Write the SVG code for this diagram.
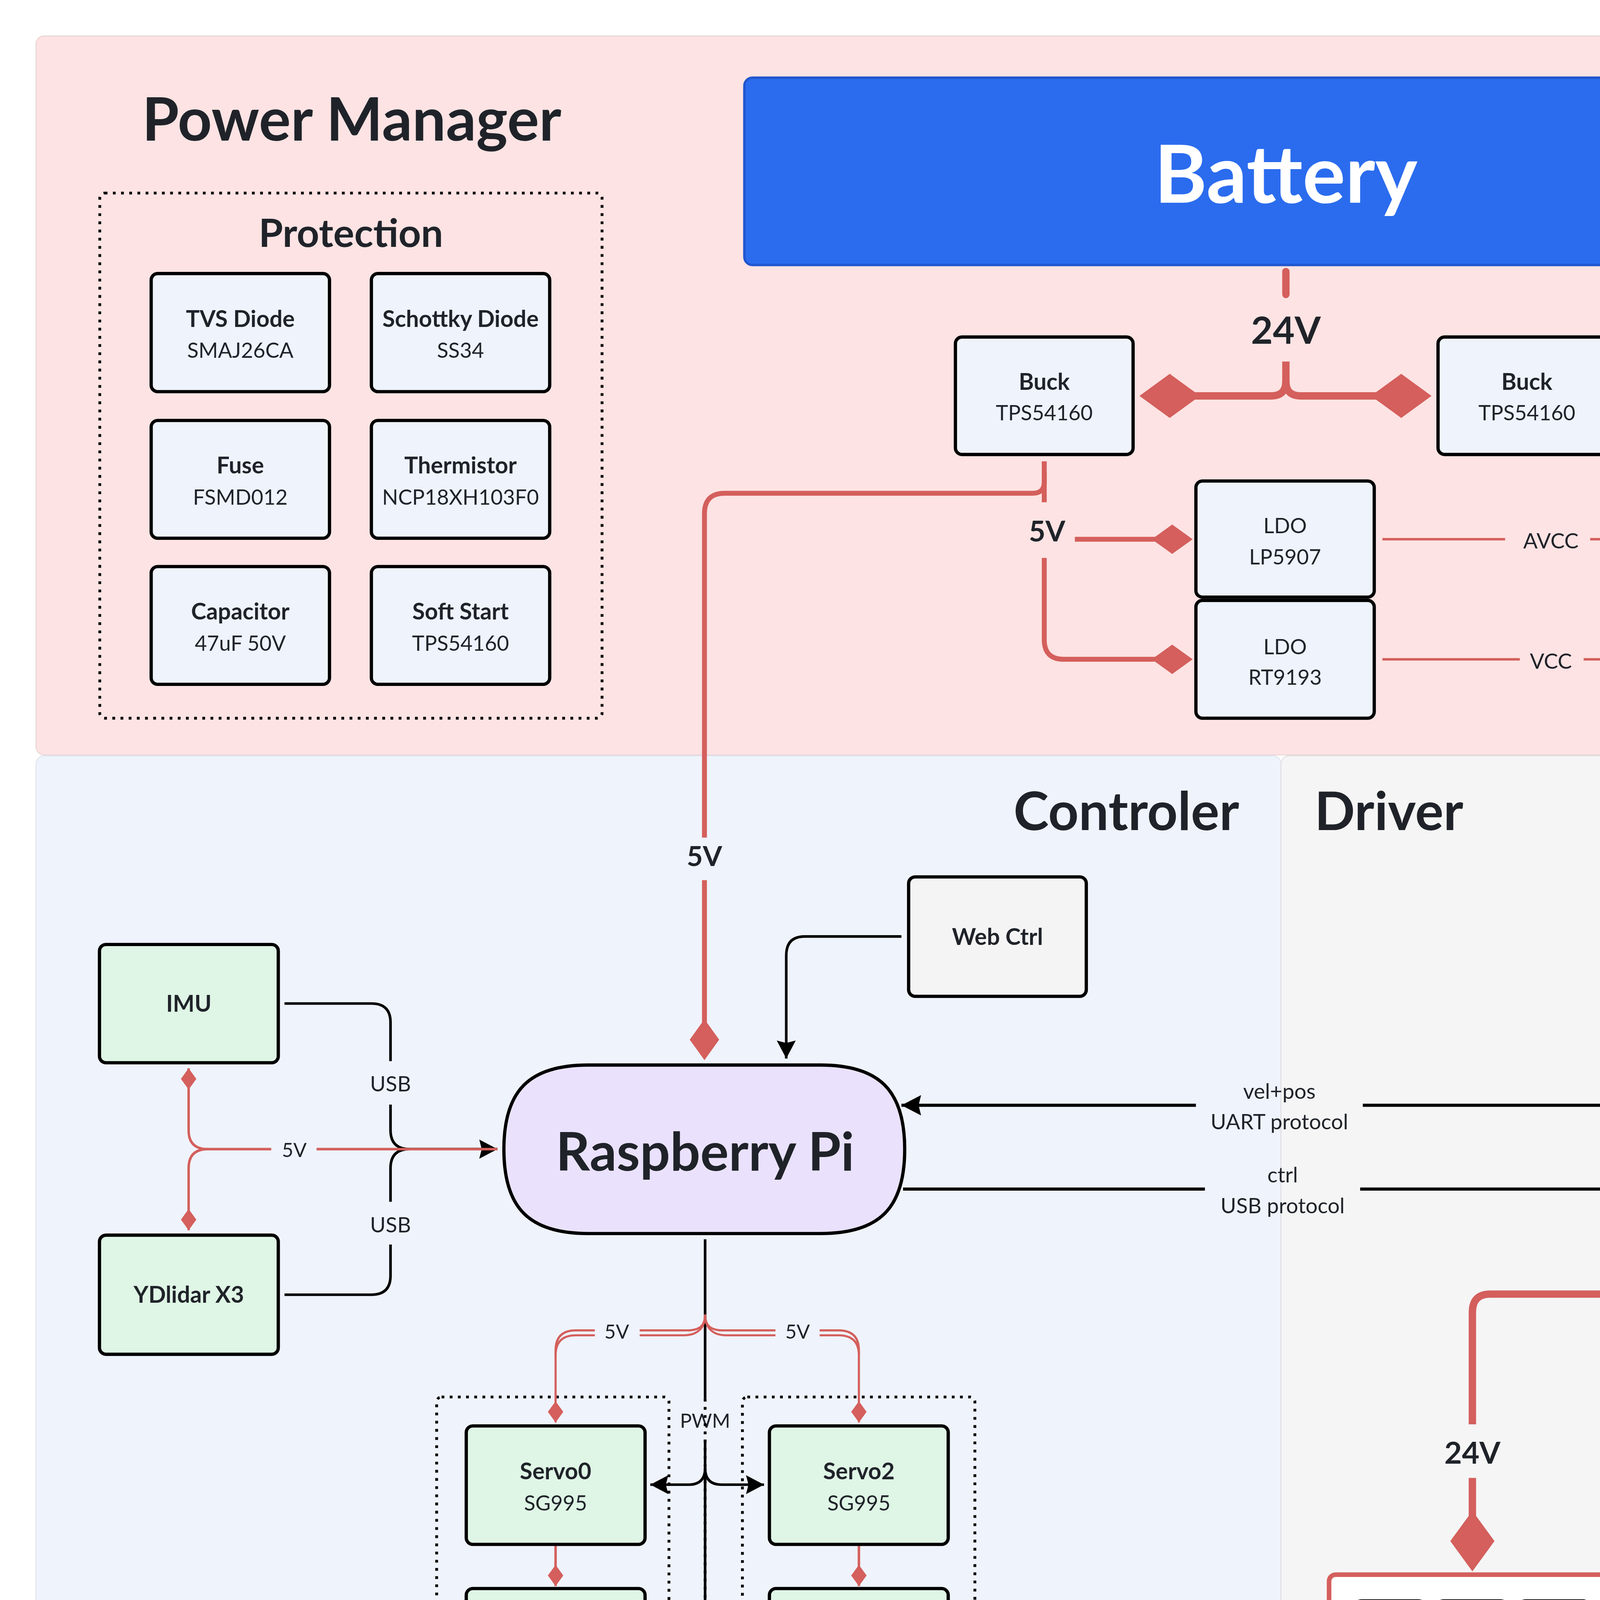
<svg xmlns="http://www.w3.org/2000/svg" width="6567" height="5053" viewBox="0 0 6567 5053">
<defs>
<style>
text{font-family:Lato,"Noto Sans","Liberation Sans",sans-serif;fill:#1f2329;text-anchor:middle}
.b{font-weight:700}
.n{font-size:12.8px}
.b.n{font-size:14px}
.lb{font-size:13px}
.sm{font-size:12px}
.nd{stroke:#000;stroke-width:2}
.blue{fill:#eef3fc}
.green{fill:#dff5e5}
.lav{fill:#eae2fd}
.grey{fill:#f4f4f4}
.mos{fill:#d6dcf5;stroke:#000;stroke-width:1.8}
.mbox{fill:#fff;stroke:#d45f5c;stroke-width:2.8}
.dot{fill:none;stroke:#000;stroke-width:1.7;stroke-dasharray:1.7 3.3}
.r5{fill:none;stroke:#d45f5c;stroke-width:4.5}
.r3{fill:none;stroke:#d45f5c;stroke-width:3}
.r1{fill:none;stroke:#d45f5c;stroke-width:1.5}
.rd{fill:none;stroke:#d45f5c;stroke-width:1.3}
.k{fill:none;stroke:#000;stroke-width:1.6}
.k2{fill:none;stroke:#000;stroke-width:1.9}
</style>
<marker id="dL" markerUnits="userSpaceOnUse" viewBox="-38 -14 38 28" markerWidth="38" markerHeight="28" refX="-6" refY="0" orient="auto" overflow="visible"><path d="M0,0 L-18.5,-13.5 L-37,0 L-18.5,13.5Z" fill="#d45f5c"/></marker>
<marker id="dM" markerUnits="userSpaceOnUse" viewBox="-26 -9 26 18" markerWidth="26" markerHeight="18" refX="-3" refY="0" orient="auto" overflow="visible"><path d="M0,0 L-12.5,-9 L-25,0 L-12.5,9Z" fill="#d45f5c"/></marker>
<marker id="dS" markerUnits="userSpaceOnUse" viewBox="-14 -5 14 10" markerWidth="14" markerHeight="10" refX="0" refY="0" orient="auto" overflow="visible"><path d="M0,0 L-6.5,-4.7 L-13,0 L-6.5,4.7Z" fill="#d45f5c"/></marker>
<marker id="dS2" markerUnits="userSpaceOnUse" viewBox="-17 -5 17 10" markerWidth="17" markerHeight="10" refX="0" refY="0" orient="auto" overflow="visible"><path d="M0,0 L-8,-4.7 L-16,0 L-8,4.7Z" fill="#d45f5c"/></marker>
<marker id="aK" markerUnits="userSpaceOnUse" viewBox="-12 -6 12 12" markerWidth="12" markerHeight="12" refX="0" refY="0" orient="auto" overflow="visible"><path d="M0,0 L-11,-5.8 L-9.5,0 L-11,5.8Z" fill="#000"/></marker>
<marker id="aM" markerUnits="userSpaceOnUse" viewBox="-13 -7 13 14" markerWidth="13" markerHeight="14" refX="0" refY="0" orient="auto" overflow="visible"><path d="M0,0 L-12,-6.2 L-10.5,0 L-12,6.2Z" fill="#000"/></marker>
</defs>
<rect width="6567" height="5053" fill="#ffffff"/>
<g transform="scale(4.18814)">
<g id="regions">
<rect x="22" y="22" width="1523" height="439.5" rx="5" fill="#fde3e3" stroke="#e6d2d2" stroke-width="0.5"/>
<rect x="22" y="462" width="761" height="723" rx="5" fill="#eff3fc" stroke="#dde2ea" stroke-width="0.5"/>
<rect x="783" y="462" width="762" height="723" rx="5" fill="#f5f5f5" stroke="#dedede" stroke-width="0.5"/>
<text x="215" y="86" class="b" font-size="36.5">Power Manager</text>
<text x="688.5" y="507.5" class="b" font-size="32.5">Controler</text>
<text x="849" y="507.5" class="b" font-size="32.5">Driver</text>
</g>
<g id="groups">
<rect x="61" y="118" width="307" height="321" rx="3" class="dot"/>
<text x="214.5" y="151" class="b" font-size="24">Protection</text>
<rect x="266.9" y="853.9" width="142" height="204.6" rx="3" class="dot"/>
<text x="338" y="1076" class="b" font-size="18">Left</text>
<rect x="453.8" y="853.9" width="142.1" height="204.6" rx="3" class="dot"/>
<text x="525" y="1076" class="b" font-size="18">Right</text>
<rect x="1005.6" y="854" width="142" height="204.5" rx="3" class="dot"/>
<text x="1077.8" y="1078" class="b" font-size="18">Left</text>
<rect x="1192.2" y="854" width="142.3" height="204.5" rx="3" class="dot"/>
<text x="1263.4" y="1076" class="b" font-size="18">Right</text>
</g>
<g id="connectors">
<path class="r5" d="M1121,104.5 H1428 Q1440,104.5 1440,116.5 V874.6" stroke-linecap="round"/>
<path class="r5" d="M1440,906.6 V954.5" marker-end="url(#dL)"/>
<text x="1440" y="898" class="b" font-size="18.5">24V</text>
<path class="r5" d="M1440,791 H911 Q900,791 900,802 V870.6"/>
<path class="r5" d="M900,903.4 V954.5" marker-end="url(#dL)"/>
<text x="900" y="894.6" class="b" font-size="18.5">24V</text>
<path class="r5" d="M786,166 V180" stroke-linecap="round"/>
<text x="786" y="210" class="b" font-size="23">24V</text>
<path class="r5" d="M786,221 V233 Q786,242 777,242 H702.5" marker-end="url(#dL)"/>
<path class="r5" d="M786,233 Q786,242 795,242 H869" marker-end="url(#dL)"/>
<path class="r3" d="M638.3,282 V307"/>
<path class="r3" d="M638.3,289 V294.5 Q638.3,301.5 631.3,301.5 H443 Q430.6,301.5 430.6,314 V512"/>
<text x="430.6" y="529.4" class="b" font-size="17">5V</text>
<path class="r3" d="M430.6,538 V645" marker-end="url(#dM)"/>
<text x="640" y="331" class="b" font-size="17.5">5V</text>
<path class="r3" d="M657,329.6 H726" marker-end="url(#dM)"/>
<path class="r3" d="M638.3,341 V391 Q638.3,403 650.3,403 H726" marker-end="url(#dM)"/>
<path class="r3" d="M991,242 H1157 Q1169,242 1169,254 V447"/>
<text x="1169" y="470.4" class="b" font-size="18.5">12V</text>
<path class="r3" d="M1169,479 V509" marker-end="url(#dM)"/>
<path class="k" d="M173.9,613.4 H227 Q238.7,613.4 238.7,625 V648.6"/>
<text x="238.7" y="667.2" class="lb">USB</text>
<path class="k" d="M238.7,675.2 V690.7 Q238.7,702.4 250.4,702.4 H304" marker-end="url(#aK)"/>
<path class="k" d="M173.9,791.4 H227 Q238.7,791.4 238.7,779.7 V760.7"/>
<text x="238.7" y="753.4" class="lb">USB</text>
<path class="k" d="M238.7,734.6 V714.1 Q238.7,702.4 250.4,702.4 H304" marker-end="url(#aK)"/>
<path class="k" d="M551,572.4 H492 Q480.6,572.4 480.6,584 V647" marker-end="url(#aK)"/>
<path class="k2" d="M1050,675.6 H833"/>
<path class="k2" d="M731,675.6 H551" marker-end="url(#aM)"/>
<text x="782" y="671.6" class="lb">vel+pos</text>
<text x="782" y="690.3" class="lb">UART protocol</text>
<path class="k2" d="M552,726.8 H736.5"/>
<path class="k2" d="M831.4,726.8 H1049" marker-end="url(#aM)"/>
<text x="784" y="722.7" class="lb">ctrl</text>
<text x="784" y="741.5" class="lb">USB protocol</text>
<path class="k" d="M431,757.5 V855"/>
<text x="431" y="872.7" class="sm">PWM</text>
<path class="k" d="M431,880 V997"/>
<path class="k" d="M431,897.5 Q431,907.5 421,907.5 H397.5" marker-end="url(#aK)"/>
<path class="k" d="M431,897.5 Q431,907.5 441,907.5 H467" marker-end="url(#aK)"/>
<path class="k" d="M431,997 Q431,1007 421,1007 H397.5" marker-end="url(#aK)"/>
<path class="k" d="M431,997 Q431,1007 441,1007 H467" marker-end="url(#aK)"/>
<path class="dot" d="M431,855 V1080"/>
<path class="k" d="M1169,866 V757.5" marker-end="url(#aK)"/>
<text x="1169" y="885.3" class="sm">SPI ABZ</text>
<path class="k" d="M1169,892 V948"/>
<path class="k" d="M1169,897.5 Q1169,907.4 1159,907.4 H1136"/>
<path class="k" d="M1169,897.5 Q1169,907.4 1179,907.4 H1205"/>
<text x="1169" y="966.3" class="sm">PWM</text>
<path class="k" d="M1169,973 V997"/>
<path class="k" d="M1169,997 Q1169,1007.3 1159,1007.3 H1136" marker-end="url(#aK)"/>
<path class="k" d="M1169,997 Q1169,1007.3 1179,1007.3 H1205" marker-end="url(#aK)"/>
<path class="dot" d="M1169,860 V1080"/>
<path class="k" d="M1169,648 V641"/>
<text x="1169" y="634.6" class="sm">PWM</text>
<path class="k" d="M1169,618 V564" marker-end="url(#aK)"/>
<path class="k" d="M1229,537 H1271" marker-end="url(#aK)"/>
<path class="k" d="M1408.7,613.6 H1379 Q1367.7,613.6 1367.7,625 V656"/>
<text x="1367.7" y="675.5" class="lb">SPI</text>
<path class="k" d="M1367.7,683 V691 Q1367.7,702.3 1356.4,702.3 H1296" marker-end="url(#aK)"/>
<path class="k" d="M1408.7,790.8 H1379 Q1367.7,790.8 1367.7,779.5 V750.3"/>
<text x="1367.7" y="742.8" class="lb">ADC</text>
<path class="k" d="M1367.7,723.6 V713.6 Q1367.7,702.3 1356.4,702.3 H1296" marker-end="url(#aK)"/>
<path class="k" d="M1019.5,1007.3 H991" marker-end="url(#aK)"/>
<path class="k" d="M1321.5,1007.3 H1349.5" marker-end="url(#aK)"/>
<path class="k" d="M900,1056 V1088" marker-end="url(#aK)"/>
<path class="k" d="M1440,1056 V1088" marker-end="url(#aK)"/>
<path class="r1" d="M845,329.6 H920"/>
<text x="948" y="335.3" class="lb">AVCC</text>
<path class="r1" d="M972,329.6 H1229 Q1240.5,329.6 1240.5,341 V649.5" marker-end="url(#dS)"/>
<path class="r1" d="M845,403 H929"/>
<text x="948" y="408.8" class="lb">VCC</text>
<path class="r1" d="M968,403 H1086 Q1097.5,403 1097.5,414.5 V649.5" marker-end="url(#dS)"/>
<path class="r1" d="M1467.5,671 V652" marker-end="url(#dS2)"/>
<text x="1467.5" y="687.4" class="sm">VCC</text>
<path class="r1" d="M1467.5,691 Q1467.5,702.3 1456,702.3 H1296"/>
<path class="r1" d="M1467.5,713.6 Q1467.5,702.3 1456,702.3"/>
<text x="1467.5" y="728.2" class="sm">AVCC</text>
<path class="r1" d="M1467.5,734 V752.5" marker-end="url(#dS2)"/>
<path class="r1" d="M165.8,702.4 H127 Q115.3,702.4 115.3,691 V653" marker-end="url(#dS)"/>
<path class="r1" d="M127,702.4 Q115.3,702.4 115.3,714 V752" marker-end="url(#dS)"/>
<text x="179.9" y="707.3" class="sm">5V</text>
<path class="r1" d="M193.5,702.4 H304"/>
<path class="rd" d="M431,803.5 C431,810 428,813.2 420,813.2 H391 M363.6,813.2 H352 Q339.6,813.2 339.6,825.5 V869.5" marker-end="url(#dS)"/>
<path class="rd" d="M431,803.5 C431,812 426,816.2 418,816.2 H391 M363.6,816.2 H352 Q339.6,816.2 339.6,828.5"/>
<text x="377" y="818.2" class="sm">5V</text>
<path class="rd" d="M431,803.5 C431,810 434,813.2 442,813.2 H474 M501,813.2 H512.6 Q525,813.2 525,825.5 V869.5" marker-end="url(#dS)"/>
<path class="rd" d="M431,803.5 C431,812 436,816.2 444,816.2 H474 M501,816.2 H512.6 Q525,816.2 525,828.5"/>
<text x="487.5" y="818.2" class="sm">5V</text>
<path class="r1" d="M339.6,944 V969.5" marker-end="url(#dS)"/>
<path class="r1" d="M525,944 V969.5" marker-end="url(#dS)"/>
<path class="rd" d="M1169,803.5 C1169,810 1166,813.2 1158,813.2 H1133.5 M1097.8,813.2 H1090 Q1077.9,813.2 1077.9,825.5 V870" marker-end="url(#dS)"/>
<path class="rd" d="M1169,803.5 C1169,812 1164,816.2 1156,816.2 H1133.5 M1097.8,816.2 H1090 Q1077.9,816.2 1077.9,828.5"/>
<text x="1115" y="818" class="sm">VCC</text>
<path class="rd" d="M1169,803.5 C1169,810 1172,813.2 1180,813.2 H1208 M1243.4,813.2 H1251 Q1263.4,813.2 1263.4,825.5 V870" marker-end="url(#dS)"/>
<path class="rd" d="M1169,803.5 C1169,812 1174,816.2 1182,816.2 H1208 M1243.4,816.2 H1251 Q1263.4,816.2 1263.4,828.5"/>
<text x="1226" y="818" class="sm">VCC</text>
<path class="r1" d="M1077.9,944 V969.5" marker-end="url(#dS)"/>
<path class="r1" d="M1263.4,944 V969.5" marker-end="url(#dS)"/>
</g>
<g id="nodes">
<g id="battery"><rect x="455" y="47.5" width="661.7" height="114.5" rx="5" fill="#2b6cee" stroke="#2157cf" stroke-width="1.5"/><text x="786" y="124" class="b" font-size="49" style="fill:#ffffff">Battery</text></g>
<g id="tvs"><rect x="92.4" y="167.2" width="109" height="72.2" rx="4" class="nd blue"/><text x="146.9" y="199.8" class="b n">TVS Diode</text><text x="146.9" y="218.8" class="n">SMAJ26CA</text></g>
<g id="schottky"><rect x="227" y="167.2" width="109" height="72.2" rx="4" class="nd blue"/><text x="281.5" y="199.8" class="b n">Schottky Diode</text><text x="281.5" y="218.8" class="n">SS34</text></g>
<g id="fuse"><rect x="92.4" y="257" width="109" height="72" rx="4" class="nd blue"/><text x="146.9" y="289.5" class="b n">Fuse</text><text x="146.9" y="308.5" class="n">FSMD012</text></g>
<g id="thermistor"><rect x="227" y="257" width="109" height="72" rx="4" class="nd blue"/><text x="281.5" y="289.5" class="b n">Thermistor</text><text x="281.5" y="308.5" class="n">NCP18XH103F0</text></g>
<g id="capacitor"><rect x="92.4" y="346.3" width="109" height="72" rx="4" class="nd blue"/><text x="146.9" y="378.8" class="b n">Capacitor</text><text x="146.9" y="397.8" class="n">47uF 50V</text></g>
<g id="softstart"><rect x="227" y="346.3" width="109" height="72" rx="4" class="nd blue"/><text x="281.5" y="378.8" class="b n">Soft Start</text><text x="281.5" y="397.8" class="n">TPS54160</text></g>
<g id="buck1"><rect x="584" y="206" width="108.6" height="71.8" rx="4" class="nd blue"/><text x="638.3" y="238.4" class="b n">Buck</text><text x="638.3" y="257" class="n">TPS54160</text></g>
<g id="buck2"><rect x="879" y="206" width="108.6" height="71.8" rx="4" class="nd blue"/><text x="933.3" y="238.4" class="b n">Buck</text><text x="933.3" y="257" class="n">TPS54160</text></g>
<g id="ldo1"><rect x="731" y="294" width="109" height="71" rx="4" class="nd blue"/><text x="785.5" y="326" class="n">LDO</text><text x="785.5" y="345" class="n">LP5907</text></g>
<g id="ldo2"><rect x="731" y="367" width="109" height="72" rx="4" class="nd blue"/><text x="785.5" y="400" class="n">LDO</text><text x="785.5" y="418.5" class="n">RT9193</text></g>
<g id="imu"><rect x="60.8" y="577.3" width="109.3" height="72.3" rx="4" class="nd green"/><text x="115.4" y="618.5" class="b n">IMU</text></g>
<g id="ydlidar"><rect x="60.8" y="755" width="109.3" height="72.8" rx="4" class="nd green"/><text x="115.4" y="796.4" class="b n">YDlidar X3</text></g>
<g id="webctrl"><rect x="555.4" y="536" width="108.6" height="73" rx="4" class="nd grey"/><text x="609.7" y="577.5" class="b n">Web Ctrl</text></g>
<g id="rpi"><path d="M359.5,651 H501.5 C537.5,651 553,666.5 553,702.5 C553,738.5 537.5,754 501.5,754 H359.5 C323.5,754 308,738.5 308,702.5 C308,666.5 323.5,651 359.5,651Z" class="nd lav"/><text x="431" y="715.5" class="b" font-size="32.5">Raspberry Pi</text></g>
<g id="foc"><path d="M1097.5,651 H1240.5 C1276.5,651 1292,666.5 1292,702.5 C1292,738.5 1276.5,754 1240.5,754 H1097.5 C1061.5,754 1046,738.5 1046,702.5 C1046,666.5 1061.5,651 1097.5,651Z" class="nd lav"/><text x="1169" y="715.5" class="b" font-size="32.5">FOC Driver</text></g>
<g id="servo0"><rect x="285" y="871.6" width="109.3" height="72.4" rx="4" class="nd green"/><text x="339.6" y="904.3" class="b n">Servo0</text><text x="339.6" y="923.3" class="n">SG995</text></g>
<g id="servo1"><rect x="285" y="971" width="109.3" height="72.5" rx="4" class="nd green"/><text x="339.6" y="1003.7" class="b n">Servo1</text><text x="339.6" y="1022.7" class="n">SG995</text></g>
<g id="servo2"><rect x="470.3" y="871.6" width="109.3" height="72.4" rx="4" class="nd green"/><text x="525" y="904.3" class="b n">Servo2</text><text x="525" y="923.3" class="n">SG995</text></g>
<g id="servo3"><rect x="470.3" y="971" width="109.3" height="72.5" rx="4" class="nd green"/><text x="525" y="1003.7" class="b n">Servo3</text><text x="525" y="1022.7" class="n">SG995</text></g>
<g id="mos12"><rect x="1113" y="514" width="112.4" height="46.6" rx="4" class="mbox"/><rect x="1122.5" y="523.5" width="43.2" height="27.5" rx="4" class="mos"/><text x="1144.1" y="542" class="b n">MOS</text><rect x="1172.4" y="523.5" width="43.6" height="27.5" rx="4" class="mos"/><text x="1194.2" y="542" class="b n">MOS</text></g>
<g id="brake"><rect x="1273.4" y="501" width="108.6" height="72" rx="4" class="nd green"/><text x="1327.7" y="524.6" class="b n">Brake</text><text x="1327.7" y="543.3" class="b n">Resistance</text><text x="1327.7" y="562" class="n">RTP50W</text></g>
<g id="flash"><rect x="1413" y="577.6" width="109" height="72" rx="4" class="nd blue"/><text x="1467.5" y="610" class="b n">Flash</text><text x="1467.5" y="629" class="n">W25Q32JVSSIQ</text></g>
<g id="sample"><rect x="1413" y="755.6" width="109" height="71.8" rx="4" class="nd blue"/><text x="1467.5" y="787.6" class="n">Temp/Voltage/</text><text x="1467.5" y="806" class="n">Current sample</text></g>
<g id="encoder0"><rect x="1023.4" y="871.7" width="109" height="72.3" rx="4" class="nd blue"/><text x="1077.9" y="904.3" class="b n">Encoder0</text><text x="1077.9" y="923.3" class="n">AS5147P</text></g>
<g id="drv0"><rect x="1023.4" y="971.4" width="109" height="71.6" rx="4" class="nd blue"/><text x="1077.9" y="1012.2" class="b n">DRV8301</text></g>
<g id="encoder1"><rect x="1209" y="871.7" width="108.8" height="72.3" rx="4" class="nd blue"/><text x="1263.4" y="904.3" class="b n">Encoder1</text><text x="1263.4" y="923.3" class="n">AS5147P</text></g>
<g id="drv1"><rect x="1209" y="971.4" width="108.8" height="71.6" rx="4" class="nd blue"/><text x="1263.4" y="1012.2" class="b n">DRV8301</text></g>
<g id="mosL"><rect x="812.4" y="962.5" width="175" height="88.8" rx="4" class="mbox"/>
<rect x="828" y="978.5" width="43.2" height="27" rx="4" class="mos"/><text x="849.6" y="997" class="b n">MOS</text>
<rect x="878.2" y="978.5" width="43.2" height="27" rx="4" class="mos"/><text x="899.8" y="997" class="b n">MOS</text>
<rect x="928.3" y="978.5" width="43.2" height="27" rx="4" class="mos"/><text x="949.9" y="997" class="b n">MOS</text>
<rect x="828" y="1012" width="43.2" height="27" rx="4" class="mos"/><text x="849.6" y="1030.5" class="b n">MOS</text>
<rect x="878.2" y="1012" width="43.2" height="27" rx="4" class="mos"/><text x="899.8" y="1030.5" class="b n">MOS</text>
<rect x="928.3" y="1012" width="43.2" height="27" rx="4" class="mos"/><text x="949.9" y="1030.5" class="b n">MOS</text></g>
<g id="mosR"><rect x="1352" y="962.5" width="175.6" height="88.8" rx="4" class="mbox"/>
<rect x="1368" y="978.5" width="43.4" height="27" rx="4" class="mos"/><text x="1389.7" y="997" class="b n">MOS</text>
<rect x="1418.3" y="978.5" width="43.2" height="27" rx="4" class="mos"/><text x="1439.9" y="997" class="b n">MOS</text>
<rect x="1468.6" y="978.5" width="43" height="27" rx="4" class="mos"/><text x="1490.1" y="997" class="b n">MOS</text>
<rect x="1368" y="1012" width="43.4" height="27" rx="4" class="mos"/><text x="1389.7" y="1030.5" class="b n">MOS</text>
<rect x="1418.3" y="1012" width="43.2" height="27" rx="4" class="mos"/><text x="1439.9" y="1030.5" class="b n">MOS</text>
<rect x="1468.6" y="1012" width="43" height="27" rx="4" class="mos"/><text x="1490.1" y="1030.5" class="b n">MOS</text></g>
<g id="motorL"><rect x="845.7" y="1092.3" width="108.4" height="71.9" rx="4" class="nd green"/><text x="899.9" y="1124.7" class="b n">Motor0</text><text x="899.9" y="1143.7" class="n">PM3510</text></g>
<g id="motorR"><rect x="1385.7" y="1092.3" width="108.8" height="71.9" rx="4" class="nd green"/><text x="1440.1" y="1124.7" class="b n">Motor0</text><text x="1440.1" y="1143.7" class="n">PM3510</text></g>
</g>
</g>
</svg>
